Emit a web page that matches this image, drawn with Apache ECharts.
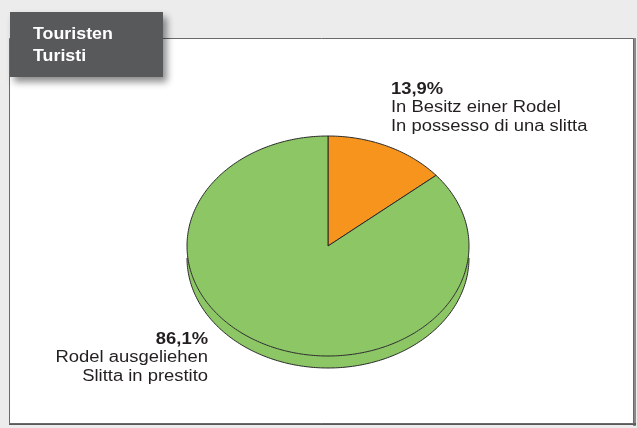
<!DOCTYPE html>
<html>
<head>
<meta charset="utf-8">
<style>
  html, body { margin: 0; padding: 0; background: #ebeceb; }
  #chart { width: 637px; height: 428px; }
</style>
<script src="https://cdn.jsdelivr.net/npm/echarts@6/dist/echarts.min.js"></script>
</head>
<body>
<div id="chart"></div>
<script>
// Share of tourists by sledge source (clockwise from 12 o'clock)
const sliceValues = [13.9, 86.1];
const sliceLabelsDe = ['In Besitz einer Rodel', 'Rodel ausgeliehen'];
const sliceLabelsIt = ['In possesso di una slitta', 'Slitta in prestito'];
const sliceColors = ['#f7941d', '#8cc665'];
const titleLines = ['Touristen', 'Turisti'];

// Elliptical (tilted) pie geometry
const PIE = { cx: 328, cy: 246, rx: 141, ry: 110, depth: 12 };
// Label anchors: [x, y of first line, text alignment]
const LABEL_POS = [
  { x: 391, y: 89.5, align: 'left' },
  { x: 208, y: 339.5, align: 'right' }
];
const TEXT_FONT = '"Liberation Sans", Arial, Helvetica, sans-serif';
const TEXT_COLOR = '#231f20';
const STROKE = '#2a2a2a';

const total = sliceValues.reduce((a, b) => a + b, 0);
const starts = [];
sliceValues.reduce((acc, v, i) => { starts[i] = acc; return acc + v; }, 0);

function pt(theta, dy) {
  return [PIE.cx + PIE.rx * Math.sin(theta), PIE.cy - PIE.ry * Math.cos(theta) + (dy || 0)];
}
function arcPoints(a0, a1, dy) {
  const n = Math.max(2, Math.ceil((a1 - a0) / (Math.PI / 180)));
  const pts = [];
  for (let k = 0; k <= n; k++) pts.push(pt(a0 + (a1 - a0) * k / n, dy));
  return pts;
}
function fmt(v) { return v.toFixed(1).replace('.', ',') + '%'; }

function renderItem(params, api) {
  const i = params.dataIndex;
  const value = api.value(0);
  const a0 = starts[i] / total * Math.PI * 2;
  const a1 = (starts[i] + value) / total * Math.PI * 2;
  const color = sliceColors[i];
  const children = [];

  // Visible rim: the part of the slice facing the viewer
  const s = Math.max(a0, Math.PI / 2), e = Math.min(a1, Math.PI * 1.5);
  if (e > s) {
    const top = arcPoints(s, e, 0);
    const bottom = arcPoints(s, e, PIE.depth).reverse();
    children.push({
      type: 'polygon', z2: 1,
      shape: { points: top.concat(bottom) },
      style: { fill: color, stroke: null }
    });
    children.push({
      type: 'polyline', z2: 2,
      shape: { points: arcPoints(s, e, PIE.depth) },
      style: { stroke: STROKE, lineWidth: 1, fill: null }
    });
  }

  // Top face of the slice
  children.push({
    type: 'polygon', z2: 5,
    shape: { points: [[PIE.cx, PIE.cy]].concat(arcPoints(a0, a1, 0)) },
    style: { fill: color, stroke: STROKE, lineWidth: 1, lineJoin: 'miter' }
  });

  // Value label and category lines
  const lp = LABEL_POS[i];
  const lines = [
    { text: fmt(value), weight: 'bold' },
    { text: sliceLabelsDe[i], weight: 'normal' },
    { text: sliceLabelsIt[i], weight: 'normal' }
  ];
  lines.forEach((ln, k) => {
    children.push({
      type: 'text', z2: 10,
      x: lp.x, y: lp.y + k * 18.5, scaleX: 1.15,
      style: {
        text: ln.text, x: 0, y: 0,
        font: ln.weight + ' 16px ' + TEXT_FONT,
        fill: TEXT_COLOR, align: lp.align, verticalAlign: 'middle'
      }
    });
  });

  return { type: 'group', children: children };
}

const chart = echarts.init(document.getElementById('chart'), null, { renderer: 'canvas' });
chart.setOption({
  backgroundColor: '#ebeceb',
  animation: false,
  graphic: [
    // Panel shadow edges
    { type: 'rect', z: 0, shape: { x: 633, y: 38, width: 3, height: 388 }, style: { fill: '#8a8a8a' } },
    { type: 'rect', z: 0, shape: { x: 9, y: 423, width: 627, height: 2 }, style: { fill: '#5a5a5a' } },
    // White panel
    { type: 'rect', z: 1, shape: { x: 9.5, y: 38.5, width: 624, height: 385 },
      style: { fill: '#ffffff', stroke: '#6a6a6a', lineWidth: 1 } },
    // Title box
    { type: 'rect', z: 2, shape: { x: 10, y: 12, width: 153, height: 65 },
      style: { fill: '#58595b', shadowBlur: 7, shadowOffsetX: 4, shadowOffsetY: 5, shadowColor: 'rgba(0,0,0,0.45)' } },
    { type: 'text', z: 3, x: 33, y: 34.5, scaleX: 1.08,
      style: { text: titleLines[0], font: 'bold 16.5px ' + TEXT_FONT, fill: '#ffffff', verticalAlign: 'middle' } },
    { type: 'text', z: 3, x: 33, y: 56, scaleX: 1.08,
      style: { text: titleLines[1], font: 'bold 16.5px ' + TEXT_FONT, fill: '#ffffff', verticalAlign: 'middle' } }
  ],
  series: [{
    type: 'custom',
    coordinateSystem: 'none',
    z: 5,
    data: sliceValues.map(v => [v]),
    renderItem: renderItem
  }]
});
</script>
</body>
</html>
